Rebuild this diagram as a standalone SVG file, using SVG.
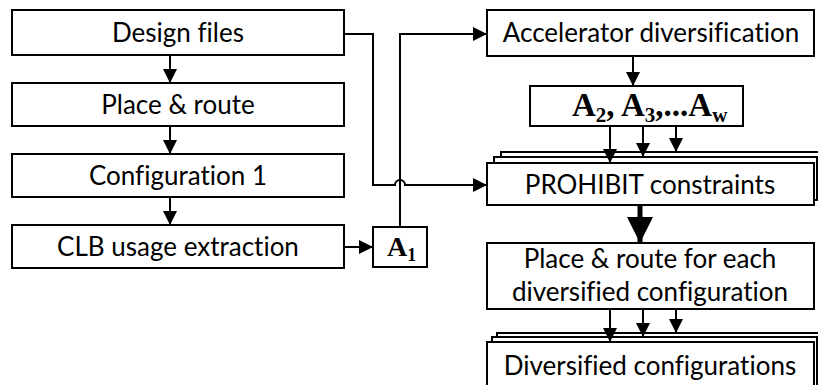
<svg xmlns="http://www.w3.org/2000/svg" width="818" height="385" viewBox="0 0 818 385">
<defs>
<style>
.box{fill:#fff;stroke:#000;stroke-width:2}
.t{font-family:Lato,"Open Sans",sans-serif;font-size:26px;text-anchor:middle;fill:#000;font-variant-ligatures:none;font-feature-settings:"liga" 0}
.a{font-family:"Liberation Serif","Times New Roman",serif;font-weight:bold;fill:#000}
.ln{fill:none;stroke:#000;stroke-width:2}
.thick{fill:none;stroke:#000;stroke-width:5}
</style>
<marker id="ah" viewBox="0 0 10 10" refX="10" refY="5" markerWidth="14" markerHeight="14" markerUnits="userSpaceOnUse" orient="auto">
<path d="M0,0 L10,5 L0,10 z" fill="#000"/>
</marker>
<marker id="ahb" viewBox="0 0 10 10" refX="10" refY="5" markerWidth="26" markerHeight="26" markerUnits="userSpaceOnUse" orient="auto">
<path d="M0,0 L10,5 L0,10 z" fill="#000"/>
</marker>
</defs>
<g id="design-files"><rect class="box" x="12" y="10" width="332" height="45"/><text class="t" x="178" y="42">Design files</text></g>
<g id="place-route"><rect class="box" x="12" y="83" width="332" height="43"/><text class="t" x="178" y="114">Place &amp; route</text></g>
<g id="configuration-1"><rect class="box" x="12" y="154" width="332" height="43"/><text class="t" x="178" y="185">Configuration 1</text></g>
<g id="clb-usage"><rect class="box" x="12" y="225" width="332" height="43"/><text class="t" x="178" y="256">CLB usage extraction</text></g>
<g id="a1"><rect class="box" x="373" y="227" width="54" height="40"/><text class="a" x="387" y="256" font-size="28">A<tspan font-size="18" dy="5">1</tspan></text></g>
<g id="accel-div"><rect class="box" x="487" y="10" width="327" height="46"/><text class="t" x="651" y="42">Accelerator diversification</text></g>
<g id="a2-aw"><rect class="box" x="530" y="86" width="213" height="40"/><text class="a" x="572" y="116" font-size="33">A<tspan font-size="21" dy="6">2</tspan><tspan dy="-6">, A</tspan><tspan font-size="21" dy="6">3</tspan><tspan dy="-6">,...A</tspan><tspan font-size="21" dy="6">w</tspan></text></g>
<g id="prohibit">
<rect class="box" x="501" y="152" width="330" height="48"/>
<rect class="box" x="494" y="157" width="323" height="43"/>
<rect class="box" x="487" y="163" width="327" height="42"/>
<text class="t" x="650" y="194">PROHIBIT constraints</text></g>
<g id="pr-each"><rect class="box" x="487" y="243" width="327" height="66"/><text class="t" x="650" y="268">Place &amp; route for each</text><text class="t" x="650" y="301">diversified configuration</text></g>
<g id="div-configs">
<rect class="box" x="497" y="333" width="340" height="60"/>
<rect class="box" x="492" y="337" width="325" height="56"/>
<rect class="box" x="487" y="342" width="327" height="50"/>
<text class="t" x="650" y="375">Diversified configurations</text></g>
<g id="connectors">
<line class="ln" x1="170" y1="55" x2="170" y2="83" marker-end="url(#ah)"/>
<line class="ln" x1="170" y1="126" x2="170" y2="154" marker-end="url(#ah)"/>
<line class="ln" x1="170" y1="197" x2="170" y2="225" marker-end="url(#ah)"/>
<line class="ln" x1="344" y1="247" x2="373" y2="247" marker-end="url(#ah)"/>
<path class="ln" d="M344,34 H373 V185 H395 A5,5 0 0 1 405,185 H487" marker-end="url(#ah)"/>
<path class="ln" d="M400,227 V34 H487" marker-end="url(#ah)"/>
<line class="ln" x1="633" y1="56" x2="633" y2="86" marker-end="url(#ah)"/>
<line class="ln" x1="610" y1="126" x2="610" y2="163" marker-end="url(#ah)"/>
<line class="ln" x1="643" y1="126" x2="643" y2="157" marker-end="url(#ah)"/>
<line class="ln" x1="676" y1="126" x2="676" y2="152" marker-end="url(#ah)"/>
<line class="thick" x1="640" y1="205" x2="640" y2="243" marker-end="url(#ahb)"/>
<line class="ln" x1="610" y1="309" x2="610" y2="342" marker-end="url(#ah)"/>
<line class="ln" x1="643" y1="309" x2="643" y2="337" marker-end="url(#ah)"/>
<line class="ln" x1="676" y1="309" x2="676" y2="333" marker-end="url(#ah)"/>
</g>
</svg>
